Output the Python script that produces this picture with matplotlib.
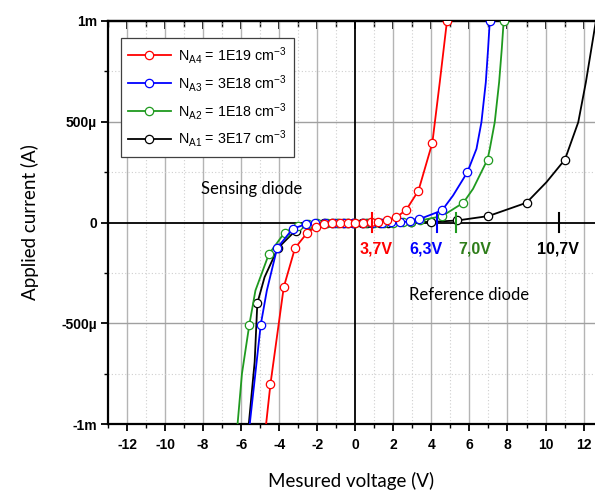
import numpy as np
import matplotlib
matplotlib.use("Agg")
import matplotlib.pyplot as plt
from matplotlib.ticker import MultipleLocator, FixedLocator, NullFormatter

plt.rcParams['font.family'] = ['Liberation Sans', 'DejaVu Sans']
plt.rcParams['mathtext.fontset'] = 'custom'
plt.rcParams['mathtext.rm'] = 'Liberation Sans'
plt.rcParams['mathtext.it'] = 'Liberation Sans'
plt.rcParams['axes.unicode_minus'] = False

# voltage (V), current (mA)
red_v = [-4.69, -4.46, -3.76, -3.17, -2.52, -2.04, -1.62, -1.2, -0.8, -0.4, 0.0, 0.4, 0.8, 1.2, 1.65, 2.15, 2.68, 3.32, 4.05, 4.44, 4.82]
red_i = [-1.0, -0.80, -0.32, -0.127, -0.05, -0.02, -0.008, -0.003, -0.001, 0, 0, 0, 0.001, 0.003, 0.01, 0.025, 0.063, 0.158, 0.395, 0.695, 1.0]
red_line_only = [0, 19]

blue_v = [-5.55, -4.97, -4.65, -4.11, -3.3, -2.6, -2.1, -1.6, -1.1, -0.6, -0.1, 0.4, 0.9, 1.4, 1.9, 2.35, 2.9, 3.35, 4.56,
          5.14, 5.89, 6.37, 6.63, 6.86, 6.98, 7.07]
blue_i = [-1.0, -0.506, -0.337, -0.127, -0.032, -0.008, -0.003, -0.001, 0, 0, 0, 0, 0, 0, 0.001, 0.002, 0.005, 0.016, 0.06,
          0.134, 0.249, 0.365, 0.497, 0.695, 0.861, 1.0]
blue_line_only = [0, 2, 19, 21, 22, 23, 24]

green_v = [-6.19, -5.96, -5.57, -5.25, -4.55, -3.72, -3.0, -2.5, -2.0, -1.5, -1.0, -0.5, 0.0, 0.5, 1.0, 1.5, 2.0, 2.5, 2.95,
           3.42, 4.57, 5.68, 6.19, 6.95, 7.07, 7.33, 7.56, 7.7, 7.8]
green_i = [-1.0, -0.75, -0.506, -0.337, -0.158, -0.05, -0.016, -0.005, -0.002, 0, 0, 0, 0, 0, 0, 0, 0, 0.001, 0.003,
           0.01, 0.032, 0.098, 0.167, 0.312, 0.365, 0.497, 0.695, 0.861, 1.0]
green_line_only = [0, 1, 3, 22, 24, 25, 26, 27]

black_v = [-5.6, -5.29, -5.15, -4.77, -4.07, -3.14, -2.43, -2.07, -1.62, -1.2, -0.93, -0.67, -0.41, -0.14, 0.33, 0.6, 0.86,
           1.28, 1.7, 2.95, 4.0, 5.36, 7.0, 9.0, 10.05, 11.02, 11.72, 12.12, 12.65]
black_i = [-1.0, -0.69, -0.40, -0.271, -0.127, -0.04, -0.013, -0.006, -0.002, 0, 0, 0, 0, 0, 0, 0, 0,
           0, 0, 0.001, 0.003, 0.01, 0.032, 0.098, 0.2, 0.312, 0.497, 0.695, 1.0]
black_line_only = [0, 1, 3, 24, 26, 27, 28]

labels = [r'N$_{\mathrm{A4}}$ = 1E19 cm$^{\mathrm{-3}}$',
          r'N$_{\mathrm{A3}}$ = 3E18 cm$^{\mathrm{-3}}$',
          r'N$_{\mathrm{A2}}$ = 1E18 cm$^{\mathrm{-3}}$',
          r'N$_{\mathrm{A1}}$ = 3E17 cm$^{\mathrm{-3}}$']
colors = ['#ff0000', '#0000ff', '#1f9a1f', '#000000']

# breakdown marks on the zero line and their texts
mark_v = [0.88, 4.3, 5.3, 10.7]
mark_text = ['3,7V', '6,3V', '7,0V', '10,7V']
mark_text_v = [1.09, 3.73, 6.28, 10.67]
mark_text_colors = ['#ff0000', '#0000ff', '#2e7d1a', '#000000']

fig = plt.figure(figsize=(5.95, 4.93), dpi=100)
ax = fig.add_axes([108 / 595, 68.7 / 493, 487 / 595, 403.6 / 493])

series = [(red_v, red_i, red_line_only), (blue_v, blue_i, blue_line_only),
          (green_v, green_i, green_line_only), (black_v, black_i, black_line_only)]

for k in [3, 2, 1, 0]:
    v, i, skip = series[k]
    marks = [n for n in range(len(v)) if n not in skip]
    ax.plot(v, np.array(i) * 1e-3, color=colors[k], lw=1.3, marker='o', ms=6,
            mfc='white', mec=colors[k], mew=0.9, markevery=marks, label=labels[k],
            zorder=4 + (3 - k))

# grid
for x in range(-12, 13, 2):
    if x != 0:
        ax.axvline(x, color='#b4b4b4', lw=1.0, zorder=1)
for x in range(-13, 13, 2):
    ax.axvline(x, color='#cfcfcf', lw=0.8, ls=(0, (1, 2)), zorder=1)
for y in [-5e-4, 5e-4]:
    ax.axhline(y, color='#a0a0a0', lw=1.0, zorder=1)
for y in [-7.5e-4, -2.5e-4, 2.5e-4, 7.5e-4]:
    ax.axhline(y, color='#cfcfcf', lw=0.8, ls=(0, (1, 2)), zorder=1)

ax.axvline(0, color='black', lw=1.3, zorder=3)
ax.axhline(0, color='black', lw=1.3, zorder=3)

for v, c in zip(mark_v, colors):
    ax.plot([v, v], [-4.5e-5, 4.5e-5], color=c, lw=1.5, zorder=8)
for v, t, c in zip(mark_text_v, mark_text, mark_text_colors):
    ax.text(v, -1.29e-4, t, color=c, fontsize=11.5, fontweight='bold',
            ha='center', va='center', zorder=9)

ax.text(-5.45, 1.67e-4, 'Sensing diode', fontsize=12, family=['Lato', 'DejaVu Sans'],
        ha='center', va='center')
ax.text(6.0, -3.6e-4, 'Reference diode', fontsize=12, family=['Lato', 'DejaVu Sans'],
        ha='center', va='center')

ax.set_xlim(-13, 12.6)
ax.set_ylim(-1e-3, 1e-3)

ax.xaxis.set_major_locator(MultipleLocator(2))
ax.xaxis.set_minor_locator(MultipleLocator(1))
ax.yaxis.set_major_locator(FixedLocator([-1e-3, -5e-4, 0, 5e-4, 1e-3]))
ax.yaxis.set_minor_locator(FixedLocator([-7.5e-4, -2.5e-4, 2.5e-4, 7.5e-4]))
ax.set_yticklabels(['-1m', '-500\u00b5', '0', '500\u00b5', '1m'])
for lab in ax.get_xticklabels() + ax.get_yticklabels():
    lab.set_fontweight('bold')
ax.tick_params(axis='both', which='major', labelsize=10, width=1.3, length=5, direction='out')
ax.tick_params(axis='both', which='minor', width=1.0, length=3, direction='out')
ax.tick_params(axis='x', which='both', pad=5)
ax.tick_params(axis='y', which='both', pad=3)

# top ticks point inward
top = ax.secondary_xaxis('top')
top.xaxis.set_major_locator(MultipleLocator(2))
top.xaxis.set_minor_locator(MultipleLocator(1))
top.xaxis.set_major_formatter(NullFormatter())
top.tick_params(which='major', direction='in', length=6, width=1.3)
top.tick_params(which='minor', direction='in', length=4, width=1.0)
top.spines['top'].set_linewidth(1.6)

for s in ['left', 'bottom', 'top']:
    ax.spines[s].set_linewidth(1.6)
ax.spines['right'].set_visible(False)

ax.set_xlabel('Mesured voltage (V)', fontsize=13.5, family=['Lato', 'DejaVu Sans'], labelpad=14)
ax.set_ylabel('Applied current (A)', fontsize=13.5, family=['Lato', 'DejaVu Sans'], labelpad=16)

handles, labs = ax.get_legend_handles_labels()
order = [labs.index(l) for l in labels]
leg = ax.legend([handles[n] for n in order], labels, loc='upper left',
                bbox_to_anchor=(0.026, 0.958), borderaxespad=0, fontsize=10.3,
                handlelength=3.0, handletextpad=0.5, labelspacing=0.48, borderpad=0.5,
                fancybox=False, framealpha=1, edgecolor='#404040')
leg.get_frame().set_linewidth(0.9)
leg.set_zorder(20)

fig.savefig('out.png', dpi=100)
